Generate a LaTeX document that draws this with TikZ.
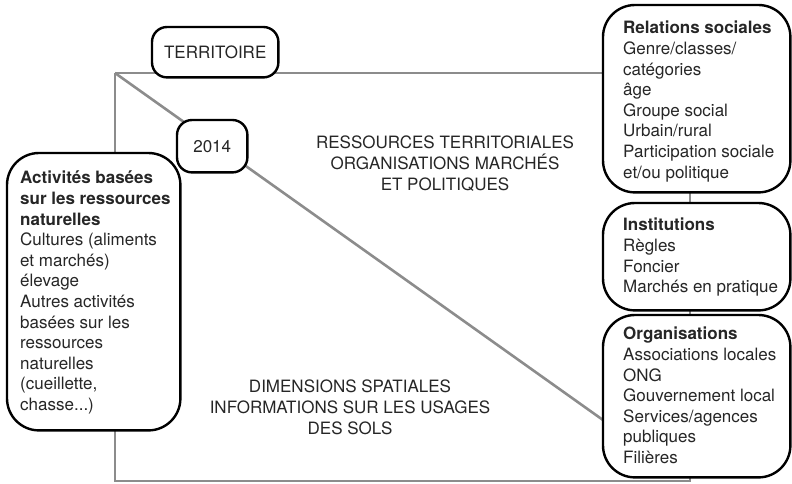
\documentclass[tikz,border=0pt]{standalone}
\usepackage{fontspec}
\setmainfont{TeX Gyre Heros}
\usetikzlibrary{backgrounds}
\definecolor{linegray}{HTML}{8C8C8C}
\definecolor{txt}{HTML}{262626}
\begin{document}
\begin{tikzpicture}[x=1pt,y=-1pt,
  gline/.style={draw=linegray,line width=2.6pt},
  boxarea/.style={inner sep=0pt,anchor=north west},
  bigline/.style={draw=black,line width=2.4pt,fill=white,rounded corners=32pt},
  smallline/.style={draw=black,line width=2.4pt,fill=white,rounded corners=15pt},
  smalltext/.style={inner sep=0pt,text=txt,font=\fontsize{17}{20}\selectfont},
  btext/.style={anchor=north west,align=left,inner sep=0pt,text=txt,font=\fontsize{17}{20.6}\selectfont},
  ctext/.style={align=center,inner sep=0pt,text=txt,font=\fontsize{17}{21}\selectfont}]
\useasboundingbox (0,0) rectangle (792,483);
% frame coordinates
\coordinate (tl) at (115,73);
\coordinate (bl) at (115,481);
\coordinate (br) at (690,481);
\coordinate (dend) at (603,420);
% box areas
\node[boxarea,minimum width=173pt,minimum height=277pt] (act) at (7,153) {};
\node[boxarea,minimum width=187pt,minimum height=187pt] (rel) at (603,5) {};
\node[boxarea,minimum width=187pt,minimum height=107pt] (ins) at (603,203) {};
\node[boxarea,minimum width=187pt,minimum height=162pt] (org) at (603,315) {};
\node[boxarea,minimum width=126pt,minimum height=50pt] (terr) at (152,27) {};
\node[boxarea,minimum width=70pt,minimum height=52pt] (y2014) at (177,120) {};
% gray connectors
\draw[gline] (tl) -- (rel.west |- tl);
\draw[gline] (tl) -- (act.north -| tl);
\draw[gline] (act.south -| bl) -- (bl) -- (br) -- (org.south -| br);
\draw[gline] (tl) -- (dend);
\draw[gline] (rel.south -| br) -- (ins.north -| br);
\draw[gline] (ins.south -| br) -- (org.north -| br);
% box outlines
\draw[bigline] (act.north west) rectangle (act.south east);
\draw[bigline] (rel.north west) rectangle (rel.south east);
\draw[bigline] (ins.north west) rectangle (ins.south east);
\draw[bigline] (org.north west) rectangle (org.south east);
\draw[smallline] (terr.north west) rectangle (terr.south east);
\draw[smallline] (y2014.north west) rectangle (y2014.south east);
% texts
\node[smalltext] (terrtxt) at (terr.center) {TERRITOIRE};
\node[smalltext] (ytxt) at (y2014.center) {2014};
\node[btext] (acttxt) at (20,171) {\textbf{Activités basées}\\\textbf{sur les ressources}\\\textbf{naturelles}\\Cultures (aliments\\et marchés)\\élevage\\Autres activités\\basées sur les\\ressources\\naturelles\\(cueillette,\\chasse...)};
\node[btext] (reltxt) at (623,21) {\textbf{Relations sociales}\\Genre/classes/\\catégories\\âge\\Groupe social\\Urbain/rural\\Participation sociale\\et/ou politique};
\node[btext] (instxt) at (623,218) {\textbf{Institutions}\\Règles\\Foncier\\Marchés en pratique};
\node[btext] (orgtxt) at (623,327) {\textbf{Organisations}\\Associations locales\\ONG\\Gouvernement local\\Services/agences\\publiques\\Filières};
\node[ctext] (res) at (445,164) {RESSOURCES TERRITORIALES\\ORGANISATIONS MARCHÉS\\ET POLITIQUES};
\node[ctext] (dim) at (350,407) {DIMENSIONS SPATIALES\\INFORMATIONS SUR LES USAGES\\DES SOLS};
\end{tikzpicture}
\end{document}
